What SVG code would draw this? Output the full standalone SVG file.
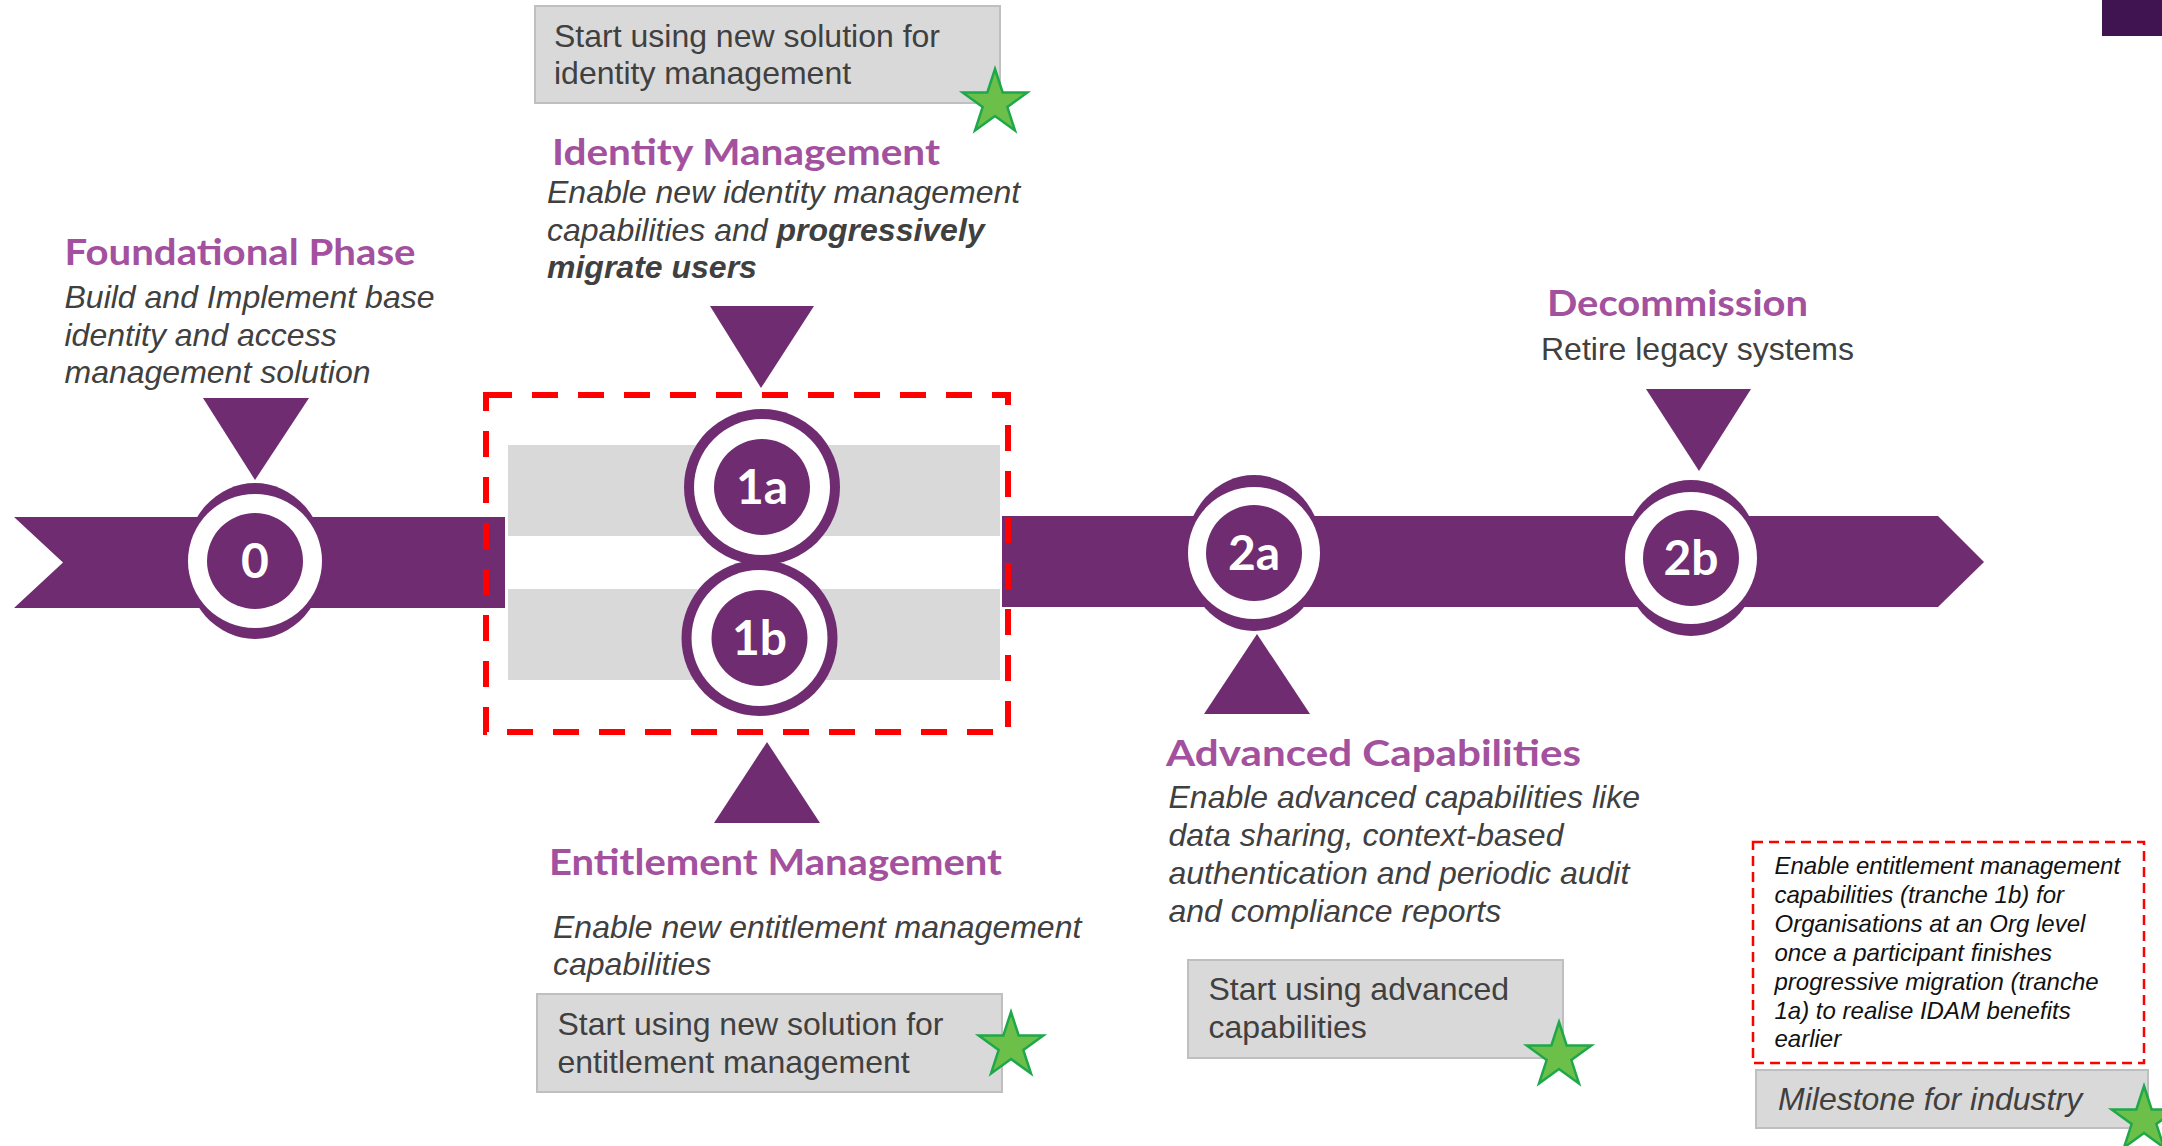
<svg xmlns="http://www.w3.org/2000/svg" width="2162" height="1146" viewBox="0 0 2162 1146">
<style>
.band{fill:#6f2c71}
.tri{fill:#6f2c71}
.ring{fill:#6f2c71}
.white{fill:#ffffff}
.num{font-family:"Lato","Liberation Sans",sans-serif;font-weight:700;font-size:48px;fill:#ffffff;text-anchor:middle}
.head{font-family:"Lato","Liberation Sans",sans-serif;font-weight:700;font-size:37px;fill:#a3519e}
.body{font-family:"Liberation Sans",Arial,sans-serif;font-size:32px;fill:#404040}
.it{font-style:italic}
.box{fill:#d9d9d9;stroke:#bfbfbf;stroke-width:2}
.gray{fill:#d9d9d9}
.note{font-family:"Liberation Sans",Arial,sans-serif;font-size:24px;font-style:italic;fill:#111111}
.star{fill:#6cc04a;stroke:#1ea84a;stroke-width:2.5;stroke-linejoin:miter}
</style>
<defs>
<path id="star" d="M0,-34 L7.64,-10.52 L32.34,-10.51 L12.36,4.02 L19.99,27.51 L0,13 L-19.99,27.51 L-12.36,4.02 L-32.34,-10.51 L-7.64,-10.52 Z"/>
</defs>
<rect x="0" y="0" width="2162" height="1146" fill="#ffffff"/>
<rect x="2102" y="0" width="60" height="36" fill="#3f1451"/>

<g id="timeline">
<polygon class="band" points="14,517 505,517 505,608 14,608 63,562.5"/>
<rect class="gray" x="508" y="445" width="492" height="91"/>
<rect class="gray" x="508" y="589" width="492" height="91"/>
<polygon class="band" points="1002,516 1938,516 1984,562 1938,607 1002,607"/>
<rect x="486" y="395" width="522" height="337" fill="none" stroke="#ff0000" stroke-width="6" stroke-dasharray="26 20"/>
</g>

<g id="connectors">
<polygon class="tri" points="203,398 309,398 255,480"/>
<polygon class="tri" points="710,306 814,306 761,388"/>
<polygon class="tri" points="714,823 820,823 767,742"/>
<polygon class="tri" points="1204,714 1310,714 1257,634"/>
<polygon class="tri" points="1646,389 1751,389 1699,471"/>
</g>

<g id="node-0">
<ellipse class="ring" cx="255" cy="561" rx="70" ry="78"/>
<circle class="white" cx="255" cy="561" r="67"/>
<circle class="ring" cx="255" cy="561" r="48"/>
<text class="num" x="255" y="578">0</text>
</g>
<g id="node-1a">
<circle class="ring" cx="762" cy="487" r="78"/>
<circle class="white" cx="762" cy="487" r="68"/>
<circle class="ring" cx="762" cy="487" r="48"/>
<text class="num" x="762" y="504">1a</text>
</g>
<g id="node-1b">
<circle class="ring" cx="759.5" cy="638" r="78"/>
<circle class="white" cx="759.5" cy="638" r="68"/>
<circle class="ring" cx="759.5" cy="638" r="48"/>
<text class="num" x="759.5" y="655">1b</text>
</g>
<g id="node-2a">
<ellipse class="ring" cx="1254" cy="553" rx="69" ry="78"/>
<circle class="white" cx="1254" cy="553" r="66"/>
<circle class="ring" cx="1254" cy="553" r="48"/>
<text class="num" x="1254" y="570">2a</text>
</g>
<g id="node-2b">
<ellipse class="ring" cx="1691" cy="558" rx="69" ry="78"/>
<circle class="white" cx="1691" cy="558" r="66"/>
<circle class="ring" cx="1691" cy="558" r="48"/>
<text class="num" x="1691" y="575">2b</text>
</g>

<g id="foundational">
<text class="head" x="64.5" y="265" textLength="351" lengthAdjust="spacingAndGlyphs">Foundational Phase</text>
<text class="body it" x="64.5" y="308">Build and Implement base</text>
<text class="body it" x="64.5" y="346">identity and access</text>
<text class="body it" x="64.5" y="383">management solution</text>
</g>

<g id="identity">
<rect class="box" x="535" y="6" width="465" height="97"/>
<text class="body" x="554" y="47">Start using new solution for</text>
<text class="body" x="554" y="84">identity management</text>
<use href="#star" class="star" x="995" y="103"/>
<text class="head" x="552" y="165" textLength="388" lengthAdjust="spacingAndGlyphs">Identity Management</text>
<text class="body it" x="547" y="203">Enable new identity management</text>
<text class="body it" x="547" y="241">capabilities and <tspan font-weight="700">progressively</tspan></text>
<text class="body it" x="547" y="278" font-weight="700">migrate users</text>
</g>

<g id="entitlement">
<text class="head" x="549" y="875" textLength="453" lengthAdjust="spacingAndGlyphs">Entitlement Management</text>
<text class="body it" x="553" y="938">Enable new entitlement management</text>
<text class="body it" x="553" y="975">capabilities</text>
<rect class="box" x="537" y="994" width="465" height="98"/>
<text class="body" x="557.5" y="1035">Start using new solution for</text>
<text class="body" x="557.5" y="1073">entitlement management</text>
<use href="#star" class="star" x="1011" y="1046"/>
</g>

<g id="advanced">
<text class="head" x="1166" y="766" textLength="415" lengthAdjust="spacingAndGlyphs">Advanced Capabilities</text>
<text class="body it" x="1168.5" y="808">Enable advanced capabilities like</text>
<text class="body it" x="1168.5" y="846">data sharing, context-based</text>
<text class="body it" x="1168.5" y="884">authentication and periodic audit</text>
<text class="body it" x="1168.5" y="922">and compliance reports</text>
<rect class="box" x="1188" y="960" width="375" height="98"/>
<text class="body" x="1208.5" y="1000">Start using advanced</text>
<text class="body" x="1208.5" y="1038">capabilities</text>
<use href="#star" class="star" x="1559" y="1056"/>
</g>

<g id="decommission">
<text class="head" x="1547" y="316" textLength="261" lengthAdjust="spacingAndGlyphs">Decommission</text>
<text class="body" x="1541" y="360">Retire legacy systems</text>
</g>

<g id="note">
<rect x="1753" y="842" width="391" height="221" fill="none" stroke="#ff0000" stroke-width="2.5" stroke-dasharray="10 6"/>
<text class="note" x="1774.5" y="874">Enable entitlement management</text>
<text class="note" x="1774.5" y="903">capabilities (tranche 1b) for</text>
<text class="note" x="1774.5" y="932">Organisations at an Org level</text>
<text class="note" x="1774.5" y="961">once a participant finishes</text>
<text class="note" x="1774.5" y="990">progressive migration (tranche</text>
<text class="note" x="1774.5" y="1019">1a) to realise IDAM benefits</text>
<text class="note" x="1774.5" y="1047">earlier</text>
</g>

<g id="legend">
<rect class="box" x="1756" y="1070" width="392" height="58"/>
<text class="body it" x="1778" y="1110">Milestone for industry</text>
<use href="#star" class="star" x="2144" y="1120"/>
</g>
</svg>
